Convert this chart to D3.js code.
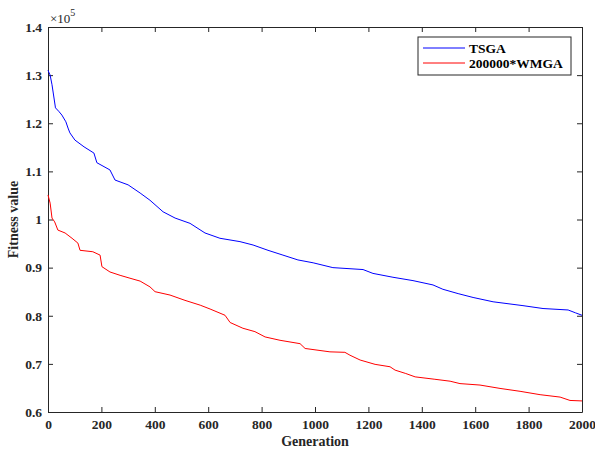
<!DOCTYPE html>
<html lang="en">
<head>
<meta charset="UTF-8">
<script src="https://d3js.org/d3.v7.min.js"></script>
<style>
  body { margin: 0; background: #fff; }
  svg text { font-family: "Liberation Serif", "Times New Roman", serif; }
  .tick text { font-size: 13.5px; font-weight: bold; fill: #262626; }
  .tick line, .domain { stroke: #262626; }
</style>
</head>
<body>
<div id="chart"></div>
<script>
// values are in units of 1e5 (see the x10^5 label)
const seriesNames = ["TSGA", "200000*WMGA"];
const seriesColors = ["#0000ff", "#ff0000"];

const tsgaGen = [0, 8, 15, 28, 40, 52, 67, 75, 82, 101, 135, 172, 183, 232, 251, 300, 345, 382, 431, 476,
  532, 588, 644, 719, 768, 824, 880, 936, 993, 1067, 1180, 1217, 1292, 1367, 1442, 1479, 1536, 1592,
  1667, 1779, 1854, 1948, 1976, 2000];
const tsgaVal = [1.310, 1.300, 1.280, 1.232, 1.225, 1.217, 1.203, 1.190, 1.180, 1.165, 1.151, 1.138, 1.118,
  1.103, 1.082, 1.072, 1.055, 1.040, 1.016, 1.003, 0.992, 0.972, 0.961, 0.954, 0.947, 0.936, 0.926, 0.916,
  0.910, 0.900, 0.896, 0.888, 0.880, 0.873, 0.864, 0.855, 0.846, 0.838, 0.829, 0.821, 0.815, 0.812, 0.806, 0.801];

const wmgaGen = [0, 8, 15, 25, 37, 64, 90, 112, 120, 168, 195, 202, 232, 270, 307, 345, 382, 401, 457, 513,
  570, 607, 663, 682, 730, 775, 813, 869, 944, 963, 1056, 1112, 1131, 1169, 1225, 1281, 1300, 1340, 1375,
  1449, 1506, 1543, 1618, 1693, 1768, 1843, 1918, 1955, 2000];
const wmgaVal = [1.051, 1.034, 1.003, 0.995, 0.978, 0.972, 0.961, 0.951, 0.936, 0.933, 0.926, 0.902, 0.891,
  0.884, 0.878, 0.872, 0.860, 0.850, 0.843, 0.832, 0.822, 0.814, 0.801, 0.786, 0.774, 0.767, 0.756, 0.749,
  0.742, 0.732, 0.725, 0.724, 0.718, 0.708, 0.699, 0.694, 0.687, 0.680, 0.673, 0.668, 0.664, 0.659, 0.656,
  0.649, 0.643, 0.636, 0.631, 0.624, 0.623];

const xTicks = d3.range(0, 2001, 200);
const yTicks = [0.6, 0.7, 0.8, 0.9, 1, 1.1, 1.2, 1.3, 1.4];

const W = 595, H = 453;
const margin = {top: 27, right: 13, bottom: 41, left: 48};
const width = W - margin.left - margin.right;
const height = H - margin.top - margin.bottom;

const svg = d3.select("#chart").append("svg")
  .attr("width", W).attr("height", H);
const g = svg.append("g").attr("transform", `translate(${margin.left},${margin.top})`);

const x = d3.scaleLinear().domain([0, 2000]).range([0, width]);
const y = d3.scaleLinear().domain([0.6, 1.4]).range([height, 0]);

// axes: ticks point inward, box on all four sides
g.append("g").attr("transform", `translate(0,${height})`)
  .call(d3.axisBottom(x).tickValues(xTicks).tickFormat(d3.format("d")).tickSizeInner(-5).tickSizeOuter(0).tickPadding(7));
g.append("g")
  .call(d3.axisLeft(y).tickValues(yTicks).tickFormat(d3.format("")).tickSizeInner(-5).tickSizeOuter(0).tickPadding(6));
g.append("g")
  .call(d3.axisTop(x).tickValues(xTicks).tickSizeInner(-5).tickSizeOuter(0).tickFormat(""));
g.append("g").attr("transform", `translate(${width},0)`)
  .call(d3.axisRight(y).tickValues(yTicks).tickSizeInner(-5).tickSizeOuter(0).tickFormat(""));

// lines
const line = d3.line().x(d => x(d[0])).y(d => y(d[1]));
const series = [d3.zip(tsgaGen, tsgaVal), d3.zip(wmgaGen, wmgaVal)];
series.forEach((s, i) => {
  g.append("path").datum(s)
    .attr("fill", "none")
    .attr("stroke", seriesColors[i])
    .attr("stroke-width", 1)
    .attr("d", line);
});

// exponent label
const exp = g.append("text").attr("x", 2).attr("y", -4).attr("font-size", "13px").attr("fill", "#262626");
exp.append("tspan").text("\u00d710");
exp.append("tspan").attr("dy", -7).attr("font-size", "10px").text("5");

// axis titles
g.append("text").attr("x", width / 2).attr("y", height + 34)
  .attr("text-anchor", "middle").attr("font-size", "14px").attr("font-weight", "bold").attr("fill", "#262626")
  .text("Generation");
g.append("text").attr("transform", `translate(${-30},${height / 2}) rotate(-90)`)
  .attr("text-anchor", "middle").attr("font-size", "14px").attr("font-weight", "bold").attr("fill", "#262626")
  .text("Fitness value");

// legend
const lg = g.append("g").attr("transform", `translate(${370},${10})`);
lg.append("rect").attr("x", 0).attr("y", 0).attr("width", 153).attr("height", 38)
  .attr("fill", "#fff").attr("stroke", "#262626").attr("stroke-width", 1);
seriesNames.forEach((name, i) => {
  const yy = 11 + i * 15;
  lg.append("line").attr("x1", 5).attr("x2", 47).attr("y1", yy).attr("y2", yy)
    .attr("stroke", seriesColors[i]).attr("stroke-width", 1);
  lg.append("text").attr("x", 51).attr("y", yy + 4.5)
    .attr("font-size", "13.5px").attr("font-weight", "bold").attr("fill", "#000")
    .text(name);
});
</script>
</body>
</html>
